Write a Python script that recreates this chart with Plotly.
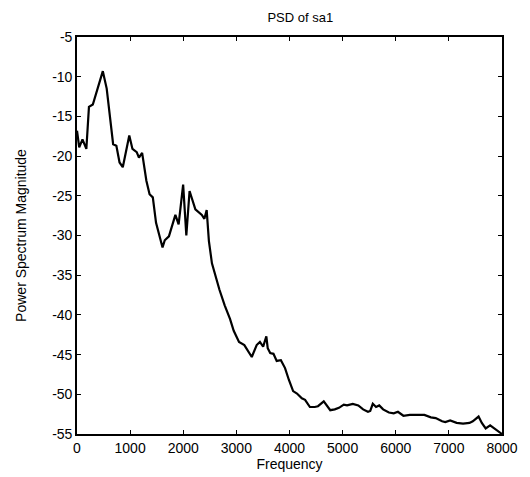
import plotly.graph_objects as go

freq = [0, 42, 103, 176, 225, 298, 486, 559, 680, 741, 801, 862, 984, 1044, 1124, 1166,
        1226, 1306, 1366, 1427, 1488, 1561, 1610, 1652, 1730, 1852, 1913, 1998, 2058,
        2119, 2228, 2350, 2398, 2441, 2483, 2540, 2600, 2680, 2780, 2880, 2950, 3050,
        3150, 3220, 3290, 3382, 3443, 3504, 3564, 3590, 3637, 3698, 3759, 3838, 3916,
        3989, 4068, 4141, 4232, 4293, 4384, 4475, 4536, 4645, 4767, 4852, 4931, 5022,
        5083, 5191, 5295, 5386, 5477, 5520, 5568, 5629, 5689, 5762, 5871, 5962, 6041,
        6144, 6265, 6387, 6539, 6661, 6752, 6872, 6933, 7024, 7146, 7267, 7388, 7450,
        7510, 7559, 7620, 7693, 7777, 7887, 8000]
psd = [-16.8, -18.9, -17.9, -19.1, -13.8, -13.5, -9.3, -11.5, -18.5, -18.7, -20.8, -21.4,
       -17.4, -19.1, -19.5, -20.2, -19.6, -23.1, -24.8, -25.2, -28.4, -30.4, -31.5, -30.6,
       -30.1, -27.4, -28.6, -23.6, -30.0, -24.4, -26.7, -27.4, -27.9, -26.8, -30.7, -33.5,
       -35.0, -36.8, -38.8, -40.5, -42.0, -43.4, -43.8, -44.5, -45.3, -43.8, -43.4, -44.0,
       -42.7, -44.2, -44.8, -44.9, -45.8, -45.7, -46.7, -48.2, -49.6, -49.9, -50.5, -50.7,
       -51.6, -51.6, -51.5, -50.9, -52.0, -51.9, -51.7, -51.3, -51.4, -51.2, -51.4, -51.9,
       -52.2, -52.1, -51.2, -51.6, -51.4, -51.9, -52.3, -52.4, -52.2, -52.7, -52.6, -52.6,
       -52.6, -52.9, -53.0, -53.4, -53.5, -53.3, -53.6, -53.7, -53.6, -53.4, -53.0, -52.8,
       -53.6, -54.3, -53.9, -54.5, -55.0]

x_ticks = [0, 1000, 2000, 3000, 4000, 5000, 6000, 7000, 8000]
y_ticks = [-55, -50, -45, -40, -35, -30, -25, -20, -15, -10, -5]

font = "Liberation Sans, Arial, Helvetica, sans-serif"

fig = go.Figure()
fig.add_trace(go.Scatter(x=freq, y=psd, mode="lines",
                         line=dict(color="black", width=2.2), showlegend=False))

axis_common = dict(showline=True, linecolor="black", linewidth=1.6, mirror="ticks",
                   ticks="inside", ticklen=4, tickwidth=1.4, tickcolor="black",
                   showgrid=False, zeroline=False,
                   tickfont=dict(family=font, size=14, color="black"))

fig.update_xaxes(range=[0, 8000], tickvals=x_ticks,
                 ticktext=[str(v) for v in x_ticks],
                 title=dict(text="Frequency", font=dict(family=font, size=14, color="black"),
                            standoff=0),
                 **axis_common)
fig.update_yaxes(range=[-55, -5], tickvals=y_ticks,
                 ticktext=[str(v) for v in y_ticks],
                 title=dict(text="Power Spectrum Magnitude",
                            font=dict(family=font, size=14, color="black"), standoff=22),
                 **axis_common)

fig.update_layout(
    width=522, height=469,
    margin=dict(l=63, r=19, t=29, b=37),
    paper_bgcolor="white", plot_bgcolor="white",
    title=dict(text="PSD of sa1", x=0.56, xanchor="center", y=0.99, yanchor="top",
               font=dict(family=font, size=13, color="black")),
)

fig.write_html("out.html")
